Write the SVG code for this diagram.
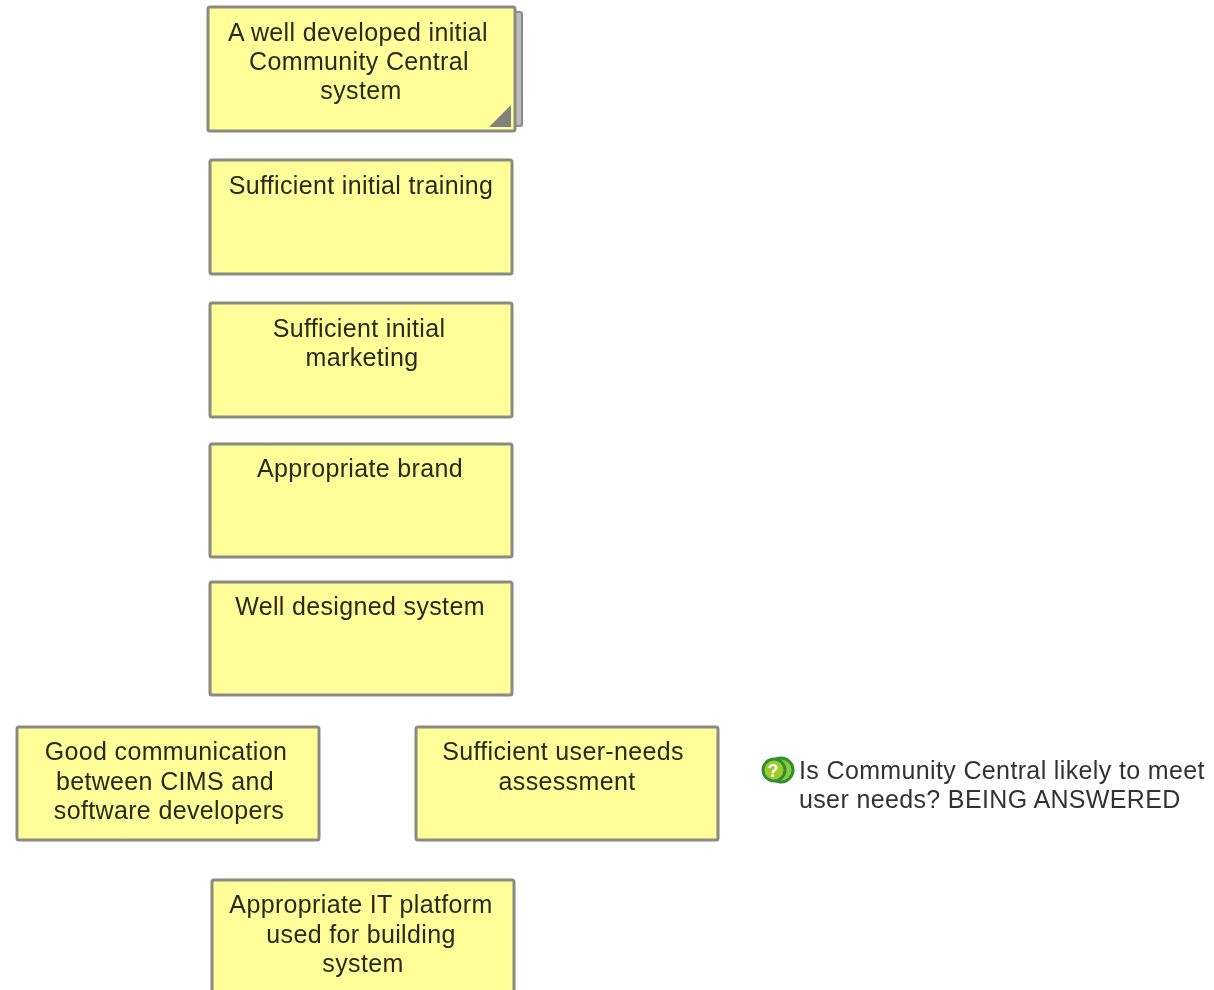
<svg xmlns="http://www.w3.org/2000/svg" width="1214" height="990" viewBox="0 0 1214 990">
<style>
.b{fill:#ffff99;stroke:#8a8a82;stroke-width:3}
.t{font-family:"Liberation Sans",Arial,sans-serif;font-size:25px;letter-spacing:.35px;fill:#2a2a1c;text-anchor:middle}
.l{font-family:"Liberation Sans",Arial,sans-serif;font-size:25px;letter-spacing:.36px;fill:#333}
</style>
<defs><filter id="soft" x="0" y="0" width="100%" height="100%" filterUnits="userSpaceOnUse"><feGaussianBlur stdDeviation="0.55"/></filter></defs>
<rect width="1214" height="990" fill="#fff"/>
<g filter="url(#soft)">
<g id="connectors"/>
<g id="n1"><rect x="512" y="12" width="10" height="114" rx="2" fill="#bcbcbc" stroke="#8a8a8a" stroke-width="2"/><rect class="b" x="208" y="7" width="307" height="124" rx="2"/><polygon points="489,127 511,127 511,105" fill="#808080"/>
<text class="t"><tspan x="358" y="41">A well developed initial</tspan><tspan x="359" y="70">Community Central</tspan><tspan x="361" y="99">system</tspan></text></g>
<g id="n2"><rect class="b" x="210" y="160" width="302" height="114" rx="2"/><text class="t" x="361" y="194">Sufficient initial training</text></g>
<g id="n3"><rect class="b" x="210" y="303" width="302" height="114" rx="2"/><text class="t"><tspan x="359" y="337">Sufficient initial</tspan><tspan x="362" y="366">marketing</tspan></text></g>
<g id="n4"><rect class="b" x="210" y="444" width="302" height="113" rx="2"/><text class="t" x="360" y="477">Appropriate brand</text></g>
<g id="n5"><rect class="b" x="210" y="582" width="302" height="113" rx="2"/><text class="t" x="360" y="615">Well designed system</text></g>
<g id="n6"><rect class="b" x="17" y="727" width="302" height="113" rx="2"/><text class="t"><tspan x="166" y="760">Good communication</tspan><tspan x="165" y="790">between CIMS and</tspan><tspan x="169" y="819">software developers</tspan></text></g>
<g id="n7"><rect class="b" x="416" y="727" width="302" height="113" rx="2"/><text class="t"><tspan x="563" y="760">Sufficient user-needs</tspan><tspan x="567" y="790">assessment</tspan></text></g>
<g id="n8"><rect class="b" x="212" y="880" width="302" height="113" rx="2"/><text class="t"><tspan x="361" y="913">Appropriate IT platform</tspan><tspan x="361" y="943">used for building</tspan><tspan x="363" y="972">system</tspan></text></g>
<g id="n9"><circle cx="781" cy="770" r="12" fill="#8fc83a" stroke="#2f8f2f" stroke-width="3"/><circle cx="774" cy="770" r="11" fill="#9ccc2c" stroke="#2f8f38" stroke-width="3"/><text x="773" y="777" font-family="Liberation Sans,sans-serif" font-size="18" font-weight="700" fill="#fff" text-anchor="middle">?</text>
<text class="l"><tspan x="799" y="779">Is Community Central likely to meet</tspan><tspan x="799" y="808">user needs? BEING ANSWERED</tspan></text></g>
</g>
</svg>
